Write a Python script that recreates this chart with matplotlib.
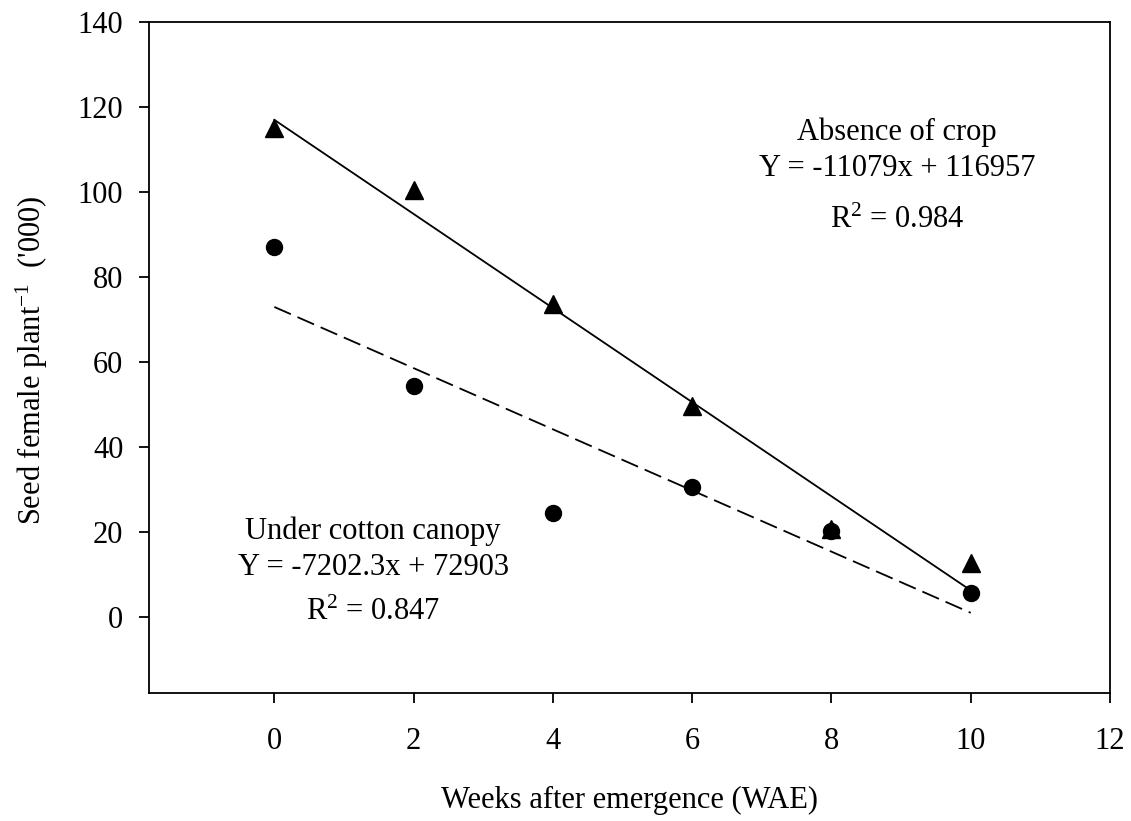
import numpy as np
import matplotlib
matplotlib.use("Agg")
import matplotlib.pyplot as plt

# ---- data ----
weeks = [0, 2, 4, 6, 8, 10]
absence_of_crop = [115.0, 100.5, 73.6, 49.5, 20.5, 12.6]
under_cotton = [87.1, 54.4, 24.4, 30.5, 20.1, 5.6]

# regression coefficients (thousands): slope, intercept
absence_fit = [-11.079, 116.957]
cotton_fit = [-7.2023, 72.903]

xticks = [0, 2, 4, 6, 8, 10, 12]
yticks = [0, 20, 40, 60, 80, 100, 120, 140]

plt.rcParams['font.family'] = ['Liberation Serif', 'DejaVu Serif']
plt.rcParams['mathtext.fontset'] = 'custom'
plt.rcParams['mathtext.rm'] = 'Liberation Serif'
plt.rcParams['mathtext.default'] = 'regular'

FS = 22

fig = plt.figure(figsize=(11.31, 8.21), dpi=100)
ax = fig.add_axes([149/1131, 1 - 693/821, (1110 - 149)/1131, (693 - 22)/821])

xfit = np.array([weeks[0], weeks[-1]])
ax.plot(xfit, np.polyval(absence_fit, xfit), color='black', lw=1.3, zorder=2)
ax.plot(xfit, np.polyval(cotton_fit, xfit), color='black', lw=1.3,
        dashes=(10, 4), zorder=2)

ax.plot(weeks, absence_of_crop, linestyle='none', marker='^', ms=13,
        color='black', zorder=3)
ax.plot(weeks, under_cotton, linestyle='none', marker='o', ms=11.5,
        color='black', zorder=3)

ax.set_xlim(-1.8, 12)
ax.set_ylim(-18, 140)
ax.set_xticks(xticks)
ax.set_yticks(yticks)
ax.tick_params(axis='x', direction='out', length=7.5, width=1.3,
               labelsize=FS, pad=17, top=False)
ax.tick_params(axis='y', direction='out', length=7.5, width=1.3,
               labelsize=FS, pad=11, right=False)
for s in ax.spines.values():
    s.set_linewidth(1.3)

# annotations
ax.text(8.94, 114.1, 'Absence of crop', ha='center', va='center', fontsize=FS)
ax.text(8.94, 105.6, 'Y = -11079x + 116957', ha='center', va='center', fontsize=FS)
ax.text(8.94, 93.2, r'R$^{2}$ = 0.984', ha='center', va='center', fontsize=FS)

ax.text(1.42, 20.0, 'Under cotton canopy', ha='center', va='center', fontsize=FS)
ax.text(1.42, 11.5, 'Y = -7202.3x + 72903', ha='center', va='center', fontsize=FS)
ax.text(1.42, 1.0, r'R$^{2}$ = 0.847', ha='center', va='center', fontsize=FS)

fig.text(32/1131, 1 - 360/821, r"Seed female plant$^{-1}$  ('000)",
         rotation=90, ha='center', va='center', fontsize=FS)
fig.text(629.5/1131, 1 - 800/821, 'Weeks after emergence (WAE)',
         ha='center', va='center', fontsize=FS)

fig.savefig('out.png', dpi=100)
